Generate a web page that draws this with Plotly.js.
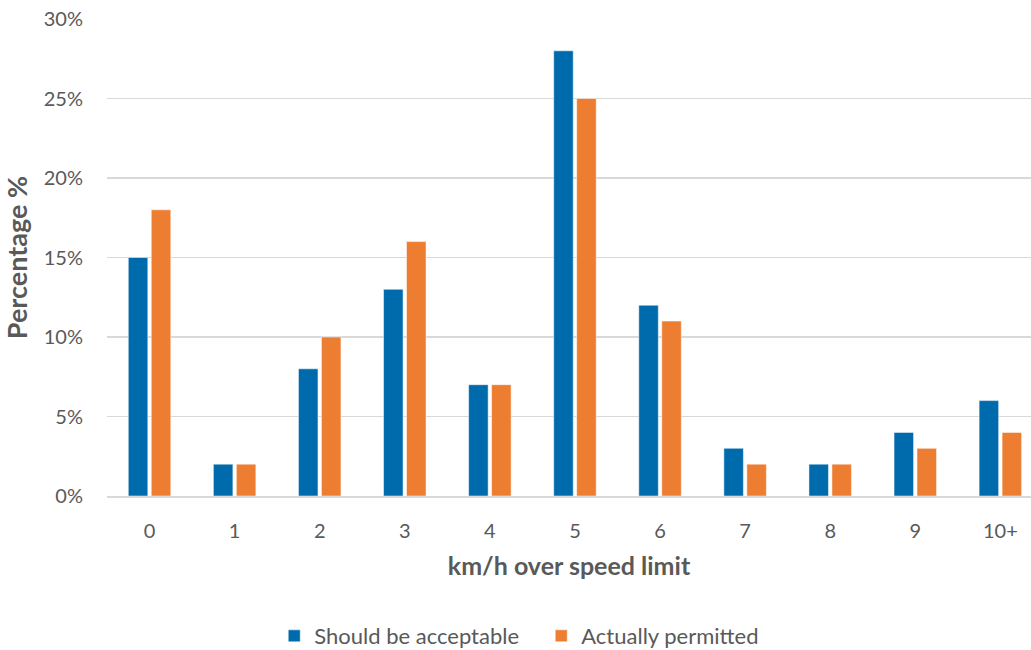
<!DOCTYPE html>
<html>
<head>
<meta charset="utf-8">
<script src="https://cdn.plot.ly/plotly-3.0.1.min.js"></script>
<style>
  html, body { margin: 0; padding: 0; background: #fff; }
  #chart { width: 1031px; height: 650px; }
</style>
</head>
<body>
<div id="chart"></div>
<script>
// Speed tolerance survey: share of respondents per km/h over the limit
const speedBands = ['0', '1', '2', '3', '4', '5', '6', '7', '8', '9', '10+'];
const shouldBeAcceptable = [15, 2, 8, 13, 7, 28, 12, 3, 2, 4, 6];
const actuallyPermitted = [18, 2, 10, 16, 7, 25, 11, 2, 2, 3, 4];
const yTickValues = [0, 5, 10, 15, 20, 25, 30];
const yTickLabels = ['0%', '5%', '10%', '15%', '20%', '25%', '30%'];

const font = 'Lato, "Open Sans", sans-serif';
const grey = '#595959';

const traces = [
  {
    type: 'bar',
    name: 'Should be acceptable',
    x: speedBands,
    y: shouldBeAcceptable,
    marker: { color: '#006bac', line: { color: '#ffffff', width: 0.5 } },
    hoverinfo: 'x+y'
  },
  {
    type: 'bar',
    name: 'Actually permitted',
    x: speedBands,
    y: actuallyPermitted,
    marker: { color: '#ed7d31', line: { color: '#ffffff', width: 0.5 } },
    hoverinfo: 'x+y'
  }
];

const layout = {
  width: 1031,
  height: 650,
  margin: { l: 107, r: 0, t: 19, b: 154, autoexpand: false },
  paper_bgcolor: '#ffffff',
  plot_bgcolor: '#ffffff',
  barmode: 'group',
  bargap: 0.46,
  bargroupgap: 0.15,
  font: { family: font, size: 20, color: grey },
  showlegend: true,
  legend: {
    orientation: 'h',
    xref: 'container',
    x: 0.266,
    xanchor: 'left',
    yref: 'container',
    y: 0.0215,
    yanchor: 'middle',
    font: { family: font, size: 22, color: grey },
    entrywidth: 222,
    entrywidthmode: 'pixels',
    itemwidth: 30,
    tracegroupgap: 0
  },
  xaxis: {
    type: 'category',
    range: [-0.5, 10.36],
    showgrid: false,
    showline: true,
    linecolor: '#d9d9d9',
    linewidth: 2,
    ticks: '',
    ticklabelstandoff: 16,
    tickfont: { family: font, size: 20, color: grey },
    title: {
      text: '<b>km/h over speed limit</b>',
      font: { family: font, size: 25, color: grey },
      standoff: 16
    },
    fixedrange: true
  },
  yaxis: {
    range: [0, 30],
    tickvals: yTickValues,
    ticktext: yTickLabels,
    showgrid: true,
    gridcolor: '#d9d9d9',
    gridwidth: 1.3,
    zeroline: false,
    showline: false,
    ticks: '',
    ticklabelstandoff: 23,
    tickfont: { family: font, size: 20, color: grey },
    title: {
      text: '<b>Percentage %</b>',
      font: { family: font, size: 27, color: grey },
      standoff: 8
    },
    fixedrange: true
  }
};

Plotly.newPlot('chart', traces, layout, { displayModeBar: false, staticPlot: true });
</script>
</body>
</html>
